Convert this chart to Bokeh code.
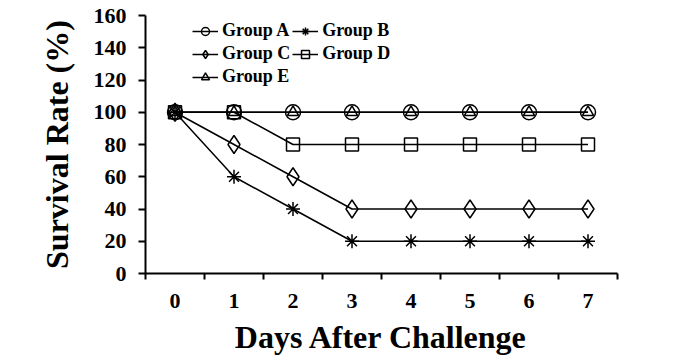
from bokeh.plotting import figure
from bokeh.models import Range1d, FixedTicker, Legend
from bokeh.embed import file_html
from bokeh.resources import INLINE

# ---- data ----
days = [0, 1, 2, 3, 4, 5, 6, 7]
group_a = [100, 100, 100, 100, 100, 100, 100, 100]
group_b = [100, 60, 40, 20, 20, 20, 20, 20]
group_c = [100, 80, 60, 40, 40, 40, 40, 40]
group_d = [100, 100, 80, 80, 80, 80, 80, 80]
group_e = [100, 100, 100, 100, 100, 100, 100, 100]
y_ticks = [0, 20, 40, 60, 80, 100, 120, 140, 160]
x_label_ticks = days
x_tick_marks = [-0.5, 0.5, 1.5, 2.5, 3.5, 4.5, 5.5, 6.5, 7.5]

FONT = "Liberation Serif"

p = figure(width=680, height=360, output_backend="svg", toolbar_location=None,
           x_range=Range1d(-0.5, 7.5), y_range=Range1d(0, 160))
p.min_border_left = 145
p.min_border_right = 63
p.min_border_top = 15
p.min_border_bottom = 87
p.outline_line_color = None
p.grid.visible = False
p.background_fill_color = "white"
p.border_fill_color = "white"

series = [
    ("Group A", group_a, dict(marker="circle", size=15)),
    ("Group B", group_b, dict(marker="asterisk", size=14)),
    ("Group C", group_c, dict(marker="diamond", size=18)),
    ("Group D", group_d, dict(marker="square", size=13)),
    ("Group E", group_e, dict(marker="triangle", size=11)),
]

items = []
for name, vals, mk in series:
    r1 = p.line(days, vals, line_color="black", line_width=1.5)
    r2 = p.scatter(days, vals, line_color="black", line_width=1.5,
                   fill_color=None, **mk)
    items.append((name, [r1, r2]))

legend = Legend(items=items, orientation="horizontal", ncols=2,
                location=(47, 186))
legend.label_text_font = FONT
legend.label_text_font_style = "bold"
legend.label_text_font_size = "18px"
legend.label_text_color = "black"
legend.background_fill_alpha = 0
legend.border_line_alpha = 0
legend.glyph_width = 26
legend.glyph_height = 20
legend.label_height = 20
legend.label_standoff = 4
legend.spacing = 2
legend.padding = 0
legend.margin = 0
p.add_layout(legend, "center")

# axes
xa = p.xaxis[0]
xa.ticker = FixedTicker(ticks=x_label_ticks, minor_ticks=x_tick_marks)
xa.major_tick_out = 0
xa.major_tick_in = 0
xa.minor_tick_out = 6
xa.minor_tick_in = 0
xa.minor_tick_line_width = 2
xa.minor_tick_line_color = "black"
xa.axis_line_width = 2
xa.axis_line_color = "black"
xa.major_label_standoff = 14
xa.major_label_text_font = FONT
xa.major_label_text_font_style = "bold"
xa.major_label_text_font_size = "22px"
xa.major_label_text_color = "black"
xa.axis_label = "Days After Challenge"
xa.axis_label_text_font = FONT
xa.axis_label_text_font_style = "bold"
xa.axis_label_text_font_size = "32px"
xa.axis_label_text_color = "black"
xa.axis_label_standoff = 8

ya = p.yaxis[0]
ya.ticker = FixedTicker(ticks=y_ticks, minor_ticks=[])
ya.major_tick_out = 7
ya.major_tick_in = 0
ya.major_tick_line_width = 2
ya.major_tick_line_color = "black"
ya.axis_line_width = 2
ya.axis_line_color = "black"
ya.major_label_standoff = 12
ya.major_label_text_font = FONT
ya.major_label_text_font_style = "bold"
ya.major_label_text_font_size = "22px"
ya.major_label_text_color = "black"
ya.axis_label = "Survival Rate (%)"
ya.axis_label_text_font = FONT
ya.axis_label_text_font_style = "bold"
ya.axis_label_text_font_size = "32px"
ya.axis_label_text_color = "black"
ya.axis_label_standoff = 16

open("out.html", "w").write(file_html(p, INLINE))
